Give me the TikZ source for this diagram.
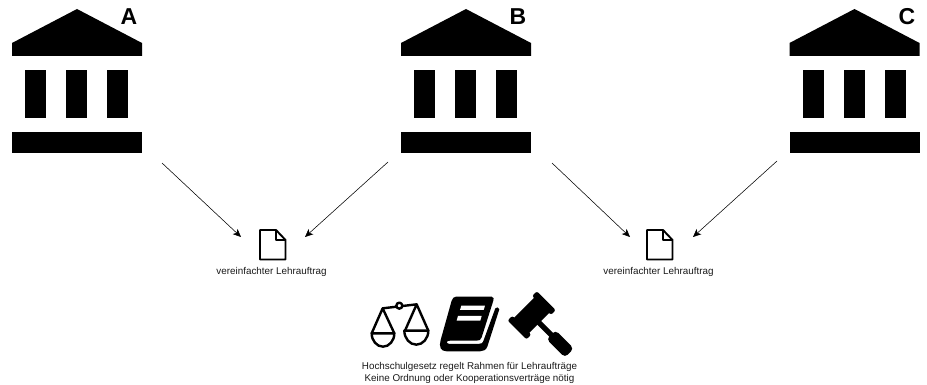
\documentclass[tikz,border=0pt]{standalone}
\usepackage{fontspec}
\setmainfont{Liberation Sans}
\usetikzlibrary{arrows.meta}
\tikzset{
  flow/.style={draw=black,line width=0.55pt,-{Stealth[length=8pt,width=7pt,inset=2pt]}},
  captext/.style={font=\fontsize{9.85pt}{12pt}\selectfont,text=black!90,align=center,inner sep=0pt},
  letter/.style={font=\fontsize{23pt}{23pt}\selectfont\bfseries,inner sep=0pt},
  icon/.style={draw=black,line width=2.4pt,line join=round,line cap=round},
  pics/bank/.style={code={
    \fill (77,9) -- (142,43) -- (142,56) -- (12,56) -- (12,43) -- cycle;
    \fill (25,70) rectangle (46,118);
    \fill (66,70) rectangle (87,118);
    \fill (107,70) rectangle (128,118);
    \fill (12,132) rectangle (142,153);
  }},
  pics/doc/.style={code={
    \draw[line width=1.9pt,line join=round] (260,230) -- (276,230) -- (285.5,240) -- (285.5,259.5) -- (260,259.5) -- cycle;
    \draw[line width=1.9pt,line join=round] (276,230) -- (276,240) -- (285.5,240);
  }}
}
\begin{document}
\begin{tikzpicture}[x=1pt,y=-1pt]
\useasboundingbox (0,0) rectangle (927,385);
\pic at (0,0) {bank};
\pic at (389,0) {bank};
\pic at (777.5,0) {bank};
\node[letter] (la) at (129,17) {A};
\node[letter] (lb) at (518,17) {B};
\node[letter] (lc) at (907,17) {C};
\pic at (0,0) {doc};
\pic at (387,0) {doc};
\node[captext] (t1) at (271.5,272) {vereinfachter Lehrauftrag};
\node[captext] (t2) at (658.5,272) {vereinfachter Lehrauftrag};
\coordinate (a1) at (162,163);
\coordinate (a2) at (241,237);
\coordinate (b1) at (388,162);
\coordinate (b2) at (305,237);
\coordinate (c1) at (552,163);
\coordinate (c2) at (630,237);
\coordinate (d1) at (777,161);
\coordinate (d2) at (693,237);
\draw[flow] (a1) -- (a2);
\draw[flow] (b1) -- (b2);
\draw[flow] (c1) -- (c2);
\draw[flow] (d1) -- (d2);
% scales
\begin{scope}[shift={(360,290)},x=0.3333pt,y=-0.3333pt]
  \draw[icon] (68,55) -- (170,43);
  \draw[icon,fill=white] (118,47) circle (9);
  \draw[icon] (35,130) -- (68,55) -- (103,130);
  \draw[icon] (135,122) -- (170,43) -- (205,122);
  \draw[icon] (35,130) -- (103,130) arc (0:180:34 and 40) -- cycle;
  \draw[icon] (133,122) -- (205,122) arc (0:180:36 and 42) -- cycle;
\end{scope}
% book
\begin{scope}[shift={(350,280)},x=0.3333pt,y=-0.3333pt]
  \fill[line join=round] (318,50) -- (425,50) .. controls (432,50) and (432,58) .. (430,62) -- (395,172) .. controls (393,180) and (388,182) .. (380,182) -- (300,182) .. controls (288,182) and (288,190) .. (298,192) -- (385,192) .. controls (395,192) and (398,190) .. (402,178) -- (436,85) .. controls (440,80) and (446,82) .. (448,88) -- (412,200) .. controls (408,210) and (400,214) .. (390,214) -- (290,214) .. controls (272,214) and (266,200) .. (272,180) -- (305,62) .. controls (308,54) and (312,50) .. (318,50) -- cycle;
  \fill[white] (334,77) -- (405,77) -- (401,90) -- (330,90) -- cycle;
  \fill[white] (324,108) -- (395,108) -- (391,122) -- (320,122) -- cycle;
\end{scope}
% gavel
\begin{scope}[shift={(350,280)},x=0.3333pt,y=-0.3333pt]
  \begin{scope}[shift={(545,106)},x={(0.2357pt,-0.2357pt)},y={(0.2357pt,0.2357pt)}]
    \fill (-32,-48) -- (32,-48) -- (32,48) -- (-32,48) -- cycle;
    \fill[rounded corners=2pt] (-40,-62) -- (40,-62) -- (40,-42) -- (-40,-42) -- cycle;
    \fill[rounded corners=2pt] (-40,42) -- (40,42) -- (40,62) -- (-40,62) -- cycle;
    \fill (30,-8) -- (90,-8) -- (90,8) -- (30,8) -- cycle;
    \fill[rounded corners=4pt] (82,-19) -- (160,-19) -- (160,19) -- (82,19) -- cycle;
  \end{scope}
\end{scope}
\node[captext] (t3) at (469.5,373) {Hochschulgesetz regelt Rahmen für Lehraufträge\\Keine Ordnung oder Kooperationsverträge nötig};
\end{tikzpicture}
\end{document}
